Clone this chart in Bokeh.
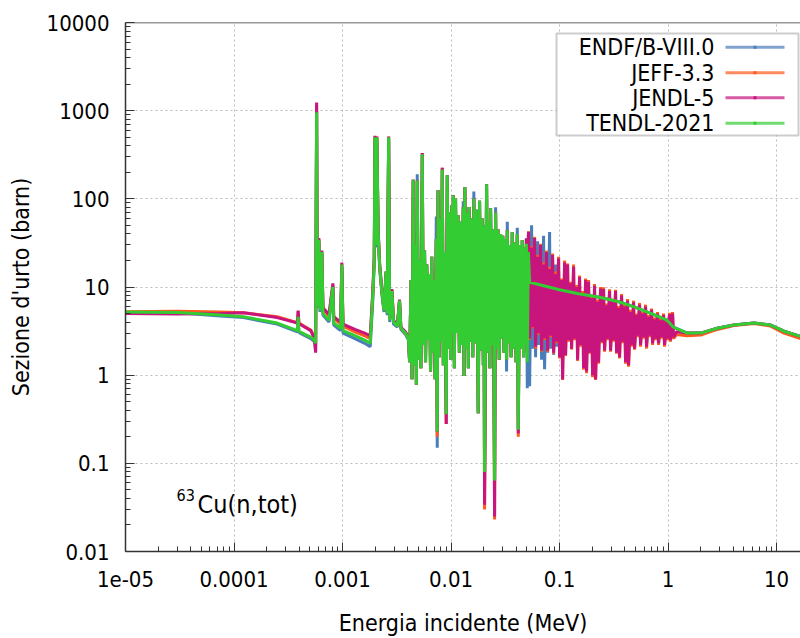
import numpy as np
from bokeh.plotting import figure
from bokeh.models import Range1d, FixedTicker, CustomJSTickFormatter, Span, BoxAnnotation, Label
from bokeh.embed import file_html
from bokeh.resources import INLINE

# ---------------- data (MeV, barn) ----------------
libraries = ["ENDF/B-VIII.0", "JEFF-3.3", "JENDL-5", "TENDL-2021"]
colors = ["#4a7ebb", "#ff5a1e", "#c8157e", "#33cc33"]

x_tick_values = [1e-5, 1e-4, 1e-3, 1e-2, 1e-1, 1, 10]
x_tick_labels = ["1e-05", "0.0001", "0.001", "0.01", "0.1", "1", "10"]
y_tick_values = [0.01, 0.1, 1, 10, 100, 1000, 10000]
y_tick_labels = ["0.01", "0.1", "1", "10", "100", "1000", "10000"]

low_E = [1.0e-5, 3.0e-5, 7.5e-5, 1.22e-4, 2.5e-4, 3.84e-4, 3.90e-4, 3.96e-4, 4.5e-4, 5.1e-4, 5.5e-4, 5.65e-4, 5.77e-4]
tendl_low = [5.2, 5.15, 4.8, 4.6, 3.9, 3.2, 4.6, 3.15, 2.9, 2.7, 2.5, 2.3, 960]
endf_low = [5.15, 5.1, 4.7, 4.5, 3.8, 3.1, 4.4, 3.05, 2.8, 2.6, 2.4, 2.2, 1000]
jendl_low = [5.0, 4.95, 5.0, 5.1, 4.5, 3.9, 5.4, 3.85, 3.5, 3.2, 2.6, 1.8, 1240]
jeff_low = [5.25, 5.3, 5.2, 5.1, 4.6, 3.95, 5.3, 3.9, 3.55, 3.25, 2.7, 1.9, 1150]

res_E = [5.85e-4, 6.05e-4, 6.2e-4, 6.45e-4, 6.6e-4, 7.5e-4, 8.15e-4, 8.3e-4, 9.6e-4, 9.85e-4,
         1.01e-3, 1.3e-3, 1.6e-3, 1.8e-3, 1.9e-3, 1.96e-3, 1.99e-3, 2.03e-3, 2.07e-3, 2.13e-3,
         2.2e-3, 2.3e-3, 2.41e-3, 2.52e-3, 2.58e-3, 2.66e-3, 2.72e-3, 2.85e-3, 2.95e-3, 3.2e-3,
         3.35e-3, 3.45e-3, 3.8e-3, 4.05e-3, 4.15e-3]
tendl_res = [6.0, 34, 5.4, 25, 5.0, 4.2, 10, 3.9, 3.4, 18,
             3.2, 2.8, 2.5, 2.3, 8, 20, 500, 30, 500, 40,
             17, 9, 5.4, 15, 5.0, 500, 4.2, 9, 4.0, 3.6,
             7, 3.4, 3.0, 2.6, 1.4]
endf_res = [5.8, 33, 5.2, 24, 4.8, 4.0, 9.5, 3.7, 3.2, 17,
            3.0, 2.6, 2.3, 2.1, 7, 19, 480, 28, 480, 38,
            16, 8.5, 5.2, 14, 4.8, 480, 4.0, 8.5, 3.8, 3.5,
            6.8, 3.3, 2.9, 2.5, 1.4]
jendl_res = [7.0, 36, 6.3, 26, 5.8, 4.9, 11, 4.6, 4.0, 19,
             3.8, 3.3, 3.0, 2.8, 9, 22, 520, 95, 510, 45,
             18, 9.5, 5.6, 15, 5.2, 510, 4.5, 9.5, 4.2, 3.7,
             7.2, 3.5, 3.1, 2.7, 1.4]
jeff_res = [6.8, 35, 6.1, 25, 5.6, 4.7, 10.5, 4.4, 3.8, 18,
            3.6, 3.1, 2.8, 2.6, 8.5, 21, 510, 60, 505, 42,
            17.5, 9.2, 5.5, 15, 5.1, 505, 4.4, 9.2, 4.1, 3.6,
            7.1, 3.4, 3.0, 2.6, 1.4]

dense_E = [0.00428, 0.00437, 0.00448, 0.00459, 0.00471, 0.00479, 0.00488, 0.00502, 0.00515, 0.00527,
           0.00543, 0.00555, 0.00570, 0.00582, 0.00597, 0.00614, 0.00631, 0.00647, 0.00664, 0.00681,
           0.00697, 0.00713, 0.00731, 0.00746, 0.00759, 0.00777, 0.00797, 0.00814, 0.00830, 0.00849,
           0.00871, 0.00903, 0.00923, 0.00944, 0.00969, 0.00994, 0.01017, 0.01032, 0.01048, 0.01073,
           0.01100, 0.01129, 0.01160, 0.01193, 0.01224, 0.01258, 0.01296, 0.01318, 0.01340, 0.01375,
           0.01414, 0.01444, 0.01465, 0.01506, 0.01545, 0.01585, 0.01622, 0.01668, 0.01711, 0.01781,
           0.01831, 0.01883, 0.01931, 0.01984, 0.02005, 0.02036, 0.02125, 0.02179, 0.02240, 0.02278,
           0.02313, 0.02378, 0.02446, 0.02518, 0.02572, 0.02644, 0.02712, 0.02783, 0.02860, 0.02921,
           0.02996, 0.03080, 0.03166, 0.03248, 0.03297, 0.03388, 0.03483, 0.03574, 0.03666, 0.03768,
           0.03874, 0.03974, 0.04077, 0.04164, 0.04281, 0.04400, 0.04533, 0.04659, 0.04760, 0.04862,
           0.04945, 0.05041, 0.05157]
tendl_dense = [12, 0.9, 165, 1.3, 30, 0.78, 160, 1.5, 20, 1.2,
               320, 2.2, 26, 1.4, 18, 2.5, 14, 1.1, 22, 1.8,
               12, 0.9, 35, 0.23, 125, 1.6, 60, 2.4, 215, 1.3,
               25, 0.36, 185, 2.0, 70, 1.5, 85, 3.0, 110, 1.2,
               100, 3.0, 65, 1.8, 55, 2.2, 80, 0.98, 135, 2.0,
               70, 1.2, 81, 2.4, 60, 1.6, 100, 2.3, 75, 0.37,
               95, 1.9, 60, 1.3, 50, 0.08, 146, 1.8, 55, 1.2,
               78, 2.2, 45, 0.064, 70, 2.0, 45, 1.5, 40, 2.6,
               38, 1.8, 35, 1.5, 44, 2.3, 30, 1.6, 42, 2.0,
               32, 1.4, 40, 0.24, 30, 2.0, 34, 1.6, 28, 2.2,
               31, 1.4, 25]
endf_dense = [12, 0.9, 165, 1.3, 30, 0.78, 190, 1.5, 20, 1.2,
              320, 2.2, 26, 1.4, 18, 2.5, 14, 1.1, 22, 1.8,
              12, 0.9, 63, 0.15, 125, 1.6, 60, 2.4, 215, 1.3,
              25, 0.36, 185, 2.0, 70, 1.5, 85, 3.0, 110, 1.2,
              100, 3.0, 65, 1.8, 55, 2.2, 94, 0.98, 135, 2.0,
              70, 1.2, 81, 2.4, 60, 1.6, 121, 2.3, 75, 0.37,
              95, 1.9, 60, 1.3, 50, 0.08, 146, 1.8, 55, 1.2,
              78, 2.2, 45, 0.064, 80, 2.0, 45, 1.5, 40, 2.6,
              38, 1.8, 35, 1.1, 55, 2.3, 30, 1.6, 42, 2.0,
              32, 1.4, 47, 0.24, 30, 2.0, 34, 1.6, 28, 2.2,
              36, 0.71, 25]
jendl_dense = [12, 0.9, 165, 1.3, 30, 0.78, 160, 1.5, 20, 1.2,
               330, 2.2, 26, 1.4, 18, 2.5, 14, 1.1, 22, 1.8,
               12, 0.9, 35, 0.23, 125, 1.6, 60, 2.4, 225, 1.3,
               25, 0.28, 185, 2.0, 70, 1.5, 85, 3.0, 110, 1.2,
               100, 3.0, 65, 1.8, 55, 2.2, 80, 0.98, 135, 2.0,
               70, 1.2, 81, 2.4, 60, 1.6, 100, 2.3, 75, 0.37,
               95, 1.9, 60, 1.3, 50, 0.034, 146, 1.8, 55, 1.2,
               78, 2.2, 45, 0.025, 70, 2.0, 45, 1.5, 40, 2.6,
               38, 1.8, 35, 1.5, 44, 2.3, 30, 1.6, 42, 2.0,
               32, 1.4, 40, 0.22, 30, 2.0, 34, 1.6, 28, 2.2,
               35, 1.8, 38]
jeff_dense = [12, 0.9, 165, 1.3, 30, 0.78, 160, 1.5, 20, 1.2,
              330, 2.2, 26, 1.4, 18, 2.5, 14, 1.1, 22, 1.8,
              12, 0.9, 35, 0.20, 125, 1.6, 60, 2.4, 225, 1.3,
              25, 0.28, 185, 2.0, 70, 1.5, 85, 3.0, 110, 1.2,
              100, 3.0, 65, 1.8, 55, 2.2, 80, 0.98, 135, 2.0,
              70, 1.2, 81, 2.4, 60, 1.6, 100, 2.3, 75, 0.37,
              95, 1.9, 60, 1.3, 50, 0.030, 146, 1.8, 55, 1.2,
              78, 2.2, 45, 0.023, 70, 2.0, 45, 1.5, 40, 2.6,
              38, 1.8, 35, 1.5, 44, 2.3, 30, 1.6, 42, 2.0,
              32, 1.4, 40, 0.20, 30, 2.0, 34, 1.6, 28, 2.2,
              35, 1.8, 38]

urr_E = [0.05182, 0.05293, 0.05522, 0.05641, 0.05886, 0.06010, 0.06271, 0.06405, 0.06683, 0.06826,
         0.07122, 0.07275, 0.07589, 0.07752, 0.08088, 0.08262, 0.08620, 0.08805, 0.09186, 0.09383,
         0.09790, 0.1000, 0.1043, 0.1066, 0.1112, 0.1136, 0.1185, 0.1210, 0.1263, 0.1290,
         0.1346, 0.1375, 0.1434, 0.1465, 0.1528, 0.1561, 0.1629, 0.1664, 0.1736, 0.1773,
         0.1850, 0.1889, 0.1971, 0.2014, 0.2101, 0.2146, 0.2239, 0.2287, 0.2386, 0.2437,
         0.2543, 0.2597, 0.2710, 0.2768, 0.2888, 0.2950, 0.3078, 0.3144, 0.3280, 0.3350,
         0.3495, 0.3570, 0.3725, 0.3805, 0.3970, 0.4055, 0.4231, 0.4321, 0.4508, 0.4605,
         0.4805, 0.4908, 0.5120, 0.5230, 0.5457, 0.5574, 0.5815, 0.5940, 0.6197, 0.6330,
         0.6605, 0.6746, 0.7039, 0.7190, 0.7501, 0.7662, 0.7994, 0.8165, 0.8519, 0.8702,
         0.9079, 0.9274, 0.9675, 0.9883, 1.0311, 1.0532, 1.0989, 1.1224]
jendl_urr = [42, 2.6, 28, 3.5, 36, 2.1, 22, 3.0, 30, 1.9,
             18, 2.6, 25, 1.9, 16, 2.8, 23, 1.8, 14, 2.4,
             21, 1.6, 12, 0.9, 19, 1.7, 18, 2.5, 11, 2.0,
             17, 2.6, 10, 1.5, 13, 2.2, 8.5, 1.2, 12, 1.1,
             11.5, 1.8, 7.5, 1.0, 10.3, 0.9, 6.8, 1.4, 9.6, 2.4,
             9.5, 1.9, 6.2, 2.6, 9, 1.9, 7.0, 2.5, 9, 1.8,
             5.8, 1.6, 8, 2.4, 6.0, 1.4, 7, 1.3, 5.2, 2.2,
             6.7, 2.0, 4.8, 2.8, 6.3, 2.2, 5.0, 2.7, 6, 2.1,
             4.6, 2.8, 5.5, 2.3, 4.3, 2.6, 5, 2.3, 4.2, 2.7,
             4.8, 2.2, 4.0, 2.6, 4.9, 2.5, 5.0, 2.7]
jeff_urr = [43, 2.5, 29, 3.4, 37, 2.0, 23, 2.9, 31, 1.85,
            19, 2.5, 26, 1.85, 17, 2.7, 24, 1.75, 15, 2.3,
            22, 1.55, 12.5, 0.88, 20, 1.65, 18.5, 2.4, 11.5, 1.95,
            18, 2.5, 10.5, 1.45, 13.5, 2.1, 9, 1.15, 12.5, 1.05,
            12, 1.75, 8, 0.95, 10.8, 0.88, 7.2, 1.35, 10, 2.3,
            9.9, 1.85, 6.5, 2.5, 9.4, 1.85, 7.3, 2.4, 9.3, 1.75,
            6.1, 1.55, 8.3, 2.3, 6.3, 1.35, 7.3, 1.25, 5.5, 2.1,
            7, 1.95, 5.0, 2.7, 6.6, 2.1, 5.2, 2.6, 6.3, 2.0,
            4.8, 2.7, 5.7, 2.2, 4.5, 2.5, 5.2, 2.2, 4.4, 2.6,
            5.0, 2.1, 4.2, 2.5, 5.1, 2.4, 5.2, 2.6]
endf_urr = [30, 0.75, 50, 2.0, 28, 1.6, 33, 2.2, 26, 1.5,
            38, 1.17, 24, 1.8, 42, 2.0, 20, 1.7, 18, 2.1,
            15, 2.0]

smooth_E = [0.053, 0.07, 0.1, 0.15, 0.24, 0.35, 0.48, 0.7, 0.98, 1.12,
            1.5, 2.0, 2.84, 4.04, 6.18, 8.8, 11.7, 16.6, 20.0]
tendl_smooth = [11.3, 10.4, 9.3, 8.4, 7.6, 6.8, 6.0, 5.0, 4.2, 3.5,
                3.0, 3.0, 3.4, 3.7, 3.9, 3.7, 3.15, 2.75, 2.6]
endf_fast_E = [0.105, 0.15, 0.24, 0.35, 0.48, 0.7, 0.98, 1.12, 1.5, 2.0,
               2.84, 4.04, 6.18, 8.8, 11.7, 16.6, 20.0]
endf_fast = [9.2, 8.4, 7.6, 6.8, 6.0, 5.0, 4.2, 3.5, 3.0, 3.0,
             3.4, 3.7, 3.9, 3.7, 3.15, 2.75, 2.6]
fast_E = [1.2, 1.5, 2.0, 2.84, 4.04, 6.18, 8.8, 11.7, 16.6, 20.0]
jendl_fast = [3.1, 3.0, 3.0, 3.4, 3.7, 3.9, 3.7, 3.15, 2.75, 2.6]
jeff_fast = [2.9, 2.8, 2.85, 3.3, 3.65, 3.85, 3.6, 3.0, 2.6, 2.5]


def build(parts):
    E = np.concatenate([np.asarray(e, float) for e, _ in parts])
    s = np.concatenate([np.asarray(v, float) for _, v in parts])
    o = np.argsort(E, kind="stable")
    return E[o], s[o]


series = {
    "ENDF/B-VIII.0": build([(low_E, endf_low), (res_E, endf_res), (dense_E, endf_dense),
                            (urr_E[:len(endf_urr)], endf_urr), (endf_fast_E, endf_fast)]),
    "JEFF-3.3": build([(low_E, jeff_low), (res_E, jeff_res), (dense_E, jeff_dense),
                       (urr_E, jeff_urr), (fast_E, jeff_fast)]),
    "JENDL-5": build([(low_E, jendl_low), (res_E, jendl_res), (dense_E, jendl_dense),
                      (urr_E, jendl_urr), (fast_E, jendl_fast)]),
    "TENDL-2021": build([(low_E, tendl_low), (res_E, tendl_res), (dense_E, tendl_dense),
                         (smooth_E, tendl_smooth)]),
}

# ---------------- figure ----------------
FONT = "DejaVu Sans Condensed"
W, H = 800, 638
L, R, T, B = 125, 0, 22, 87

p = figure(width=W, height=H, x_axis_type="log", y_axis_type="log",
           x_range=Range1d(1e-5, 16.6), y_range=Range1d(0.01, 10000),
           output_backend="svg", toolbar_location=None,
           min_border_left=L, min_border_right=R, min_border_top=T, min_border_bottom=B)
p.outline_line_color = None
p.background_fill_color = "white"
p.border_fill_color = "white"

x_minor = [m * 10.0 ** e for e in range(-5, 2) for m in range(2, 10)]
y_minor = [m * 10.0 ** e for e in range(-2, 4) for m in range(2, 10)]
p.xaxis.ticker = FixedTicker(ticks=x_tick_values, minor_ticks=x_minor)
p.yaxis.ticker = FixedTicker(ticks=y_tick_values, minor_ticks=y_minor)

fmt_code = """
for (let i = 0; i < vals.length; i++) {
  if (Math.abs(Math.log10(tick / vals[i])) < 1e-6) return labs[i];
}
return "";
"""
p.xaxis.formatter = CustomJSTickFormatter(args=dict(vals=x_tick_values, labs=x_tick_labels), code=fmt_code)
p.yaxis.formatter = CustomJSTickFormatter(args=dict(vals=y_tick_values, labs=y_tick_labels), code=fmt_code)

for ax in (p.xaxis, p.yaxis):
    ax.axis_line_color = "#333333"
    ax.axis_line_width = 1.5
    ax.major_tick_in = 9
    ax.major_tick_out = 0
    ax.minor_tick_in = 5
    ax.minor_tick_out = 0
    ax.major_tick_line_color = "#333333"
    ax.minor_tick_line_color = "#333333"
    ax.major_label_text_font = FONT
    ax.major_label_text_font_size = "22px"
    ax.major_label_text_color = "black"
    ax.axis_label_text_font = FONT
    ax.axis_label_text_font_size = "23px"
    ax.axis_label_text_font_style = "normal"
    ax.axis_label_text_color = "black"

p.xaxis.axis_label = "Energia incidente (MeV)"
p.yaxis.axis_label = "Sezione d'urto (barn)"
p.xaxis.major_label_standoff = 19
p.yaxis.major_label_standoff = 16
p.xaxis.axis_label_standoff = 20
p.yaxis.axis_label_standoff = 10

for g in (p.xgrid, p.ygrid):
    g.grid_line_color = "#bbbbbb"
    g.grid_line_dash = "2 3"
    g.grid_line_width = 1

p.add_layout(Span(location=10000, dimension="width", line_color="#333333", line_width=1.5))

for name, color in zip(libraries, colors):
    E, s = series[name]
    p.line(E, s, line_color=color, line_width=3)

# ---------------- legend (text left, sample right) ----------------
leg_left, leg_right, leg_top, leg_bottom = 556, 798, 33, 135
p.add_layout(BoxAnnotation(left=leg_left, right=leg_right, top=leg_top, bottom=leg_bottom,
                           left_units="canvas", right_units="canvas",
                           top_units="canvas", bottom_units="canvas",
                           fill_color="white", fill_alpha=1.0,
                           line_color="#555555", line_width=2, level="overlay"))
row_y = [46.7, 72.3, 97.3, 122.7]
for name, color, yc in zip(libraries, colors, row_y):
    p.add_layout(Label(x=714, y=yc, x_units="canvas", y_units="canvas", text=name,
                       text_align="right", text_baseline="middle",
                       text_font=FONT, text_font_size="23px", text_color="black",
                       level="overlay"))
    p.add_layout(BoxAnnotation(left=725, right=784, top=yc - 1.5, bottom=yc + 1.5,
                               left_units="canvas", right_units="canvas",
                               top_units="canvas", bottom_units="canvas",
                               fill_color=color, fill_alpha=0.7, line_color=None,
                               level="overlay"))
    p.add_layout(BoxAnnotation(left=753, right=756, top=yc - 1.5, bottom=yc + 1.5,
                               left_units="canvas", right_units="canvas",
                               top_units="canvas", bottom_units="canvas",
                               fill_color=color, fill_alpha=1.0, line_color=None,
                               level="overlay"))

# ---------------- reaction label ----------------
p.add_layout(Label(x=176, y=494, x_units="canvas", y_units="canvas", text="63",
                   text_font=FONT, text_font_size="16px", text_baseline="alphabetic",
                   text_color="black"))
p.add_layout(Label(x=197, y=504, x_units="canvas", y_units="canvas", text="Cu(n,tot)",
                   text_font=FONT, text_font_size="25px", text_baseline="alphabetic",
                   text_color="black"))

open("out.html", "w").write(file_html(p, INLINE))
